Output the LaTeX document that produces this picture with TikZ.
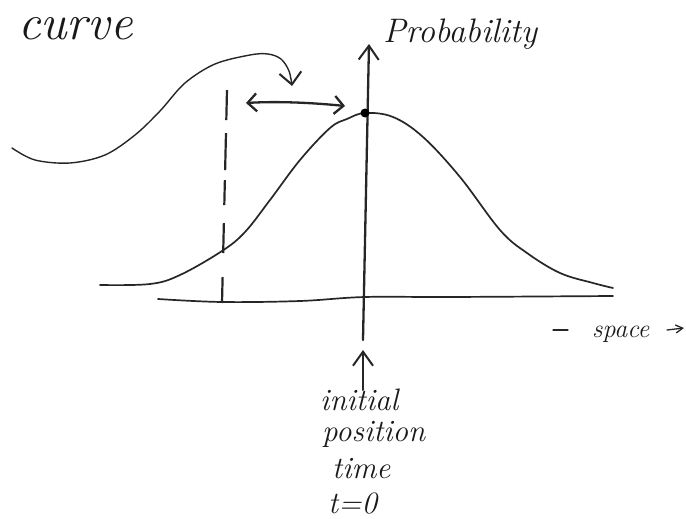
\documentclass[tikz,border=0pt]{standalone}
\usetikzlibrary{arrows.meta}
\tikzset{
  ink/.style={line width=1.7pt, line cap=round, line join=round, black!85},
  axisline/.style={line width=2.3pt, line cap=round, black!85},
  barb/.style={-{Straight Barb[length=14pt,width=20pt,line width=2pt]}},
  smallbarb/.style={-{Straight Barb[length=7pt,width=8pt,line width=1.3pt]}},
  hand/.style={font=\itshape, inner sep=0pt, text=black!90},
}
\begin{document}
\begin{tikzpicture}[x=1pt,y=-1pt]
\useasboundingbox (0,0) rectangle (686,519);
% labels
\node[hand, anchor=base west, font=\itshape\fontsize{50}{50}\selectfont] (curvelbl) at (18,40) {curve};
\node[hand, anchor=base west, font=\itshape\fontsize{34}{34}\selectfont] (problbl) at (383,43) {Probability};
\node[hand, anchor=base west, font=\itshape\fontsize{26}{26}\selectfont] (spacelbl) at (592,337) {space};
\node[hand, anchor=base west, font=\itshape\fontsize{31}{31}\selectfont] (init1) at (320,410) {initial};
\node[hand, anchor=base west, font=\itshape\fontsize{31}{31}\selectfont] (init2) at (322,441) {position};
\node[hand, anchor=base west, font=\itshape\fontsize{31}{31}\selectfont] (init3) at (332,478) {time};
\node[hand, anchor=base west, font=\itshape\fontsize{31}{31}\selectfont] (init4) at (328,513) {t=0};
% coordinates
\coordinate (vbot) at (363,340);
\coordinate (vtop) at (369,44);
\coordinate (peak) at (365,113);
\coordinate (dashbot) at (222,303);
\coordinate (dashtop) at (227,90);
\coordinate (dblL) at (246,103);
\coordinate (dblR) at (345,106);
\coordinate (upfrom) at (363,390);
\coordinate (upto) at (363,350);
\coordinate (spL1) at (553,330);
\coordinate (spL2) at (568,330);
\coordinate (spR1) at (667,330);
\coordinate (spR2) at (684,328);
% horizontal axis
\draw[ink] plot[smooth, tension=0.6] coordinates {(158,299) (222,302) (300,301) (365,297) (450,297) (613,296)};
% vertical axis
\draw[axisline, barb] (vbot) -- (vtop);
% bell curve
\draw[ink] plot[smooth, tension=0.6] coordinates {(100,285) (150,284) (180,275) (222,251) (245,232) (270,200) (300,160) (330,128) (347,119) (365,113) (393,117) (423,137) (460,177) (500,230) (527,253) (560,273) (593,283) (613,288)};
% peak dot
\fill[black] (peak) circle (4.5pt);
% dashed line
\draw[ink, line width=2.2pt, line cap=butt, dash pattern=on 26pt off 24pt on 30pt off 18pt on 25pt off 10pt on 37pt off 13pt on 30pt off 10pt] (dashbot) -- (dashtop);
% double arrow
\draw[ink, line width=2.3pt, {Straight Barb[length=9pt,width=18pt,line width=2.3pt]}-{Straight Barb[length=9pt,width=18pt,line width=2.3pt]}] (dblL) .. controls (280,101) and (315,103) .. (dblR);
% shifted curve with arrow
\draw[ink, line width=1.4pt, -{Straight Barb[length=12pt,width=22pt,line width=2pt]}] plot[smooth, tension=0.55] coordinates {(12,148) (35,160) (70,163) (105,155) (135,135) (160,111) (185,83) (215,64) (250,55) (268,54) (281,59) (289,71) (292,86)};
% arrow from initial position
\draw[axisline, line width=2pt, barb] (upfrom) -- (upto);
% space arrows
\draw[ink, line width=1.3pt] (spL1) -- (spL2);
\draw[ink, line width=1.3pt, smallbarb] (spR1) -- (spR2);
\end{tikzpicture}
\end{document}
